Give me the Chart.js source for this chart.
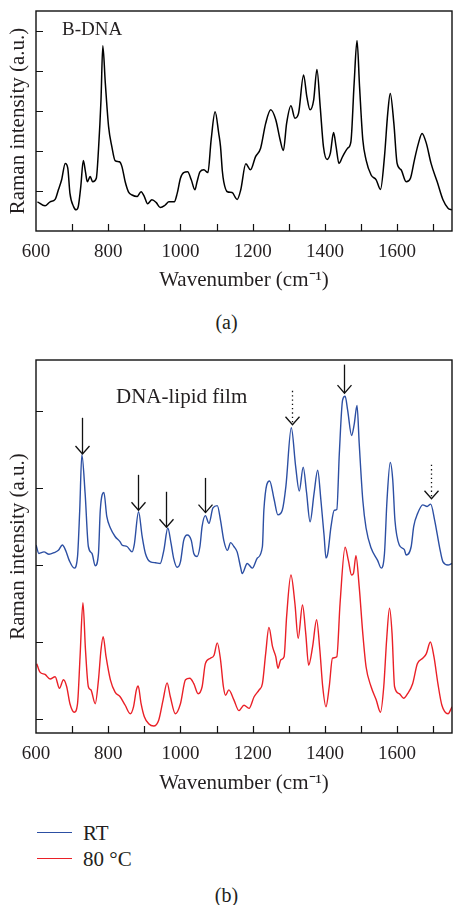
<!DOCTYPE html>
<html><head><meta charset="utf-8">
<script src="https://cdn.jsdelivr.net/npm/chart.js@4.4.1/dist/chart.umd.min.js"></script>
<style>
html,body{margin:0;padding:0;background:#fff}
body{width:453px;height:905px;position:relative;overflow:hidden;font-family:"Liberation Serif","Times New Roman",serif;color:#231f20}
canvas{position:absolute;left:0}
.t{position:absolute;white-space:nowrap;line-height:24px;height:24px}
.ln{position:absolute;left:37px;width:35px;height:0}
</style></head><body>
<canvas id="c1" width="453" height="300" style="top:0"></canvas>
<canvas id="c2" width="453" height="460" style="top:340px"></canvas>
<div class="t" style="left:62px;top:17px;font-size:19px">B-DNA</div>
<div class="t" style="left:116px;top:384px;font-size:21px">DNA-lipid film</div>
<div class="t" style="left:0;width:453px;text-align:center;top:310px;font-size:20px">(a)</div>
<div class="ln" style="top:832px;border-top:1.4px solid #2c4fa3"></div>
<div class="t" style="left:83px;top:821px;font-size:21px">RT</div>
<div class="ln" style="top:858px;border-top:1.4px solid #ea2027"></div>
<div class="t" style="left:83px;top:847px;font-size:21px">80 °C</div>
<div class="t" style="left:0;width:453px;text-align:center;top:883px;font-size:20px">(b)</div>
<script>
// ---- tick labels ----
const xTickLabels = [600, 800, 1000, 1200, 1400, 1600];
const xMinorTicks = [700, 800, 900, 1000, 1100, 1200, 1300, 1400, 1500, 1600, 1700];
const yTicksA = [1, 2, 3, 4, 5];
const yTicksB = [0, 1, 2, 3, 4];

// ---- (a) B-DNA spectrum ----
const wnA = [604,625,639,653,662,671,681,688,694,704,
 711,717,724,731,737,742,750,757,767,773,
 780,785,792,801,810,819,831,838,847,856,
 866,880,891,900,909,921,933,944,958,968,
 983,991,1000,1009,1020,1030,1040,1046,1054,1065,
 1076,1085,1096,1106,1111,1116,1120,1130,1143,1157,
 1167,1181,1194,1208,1222,1236,1250,1264,1276,1285,
 1294,1306,1317,1327,1341,1350,1359,1369,1378,1387,
 1396,1406,1415,1424,1431,1439,1449,1463,1472,1481,
 1489,1496,1505,1514,1528,1542,1554,1565,1574,1581,
 1591,1600,1611,1625,1637,1648,1659,1669,1681,1694,
 1711,1727,1741,1752];
const bDNA = [0.73,0.63,0.73,0.79,1.03,1.28,1.69,1.57,0.94,0.61,
 0.53,0.61,1.11,1.76,1.48,1.23,1.36,1.23,1.32,2.03,
 3.28,4.63,3.69,2.61,2.11,1.76,1.73,1.61,1.23,0.98,
 0.90,0.86,0.98,0.86,0.68,0.78,0.71,0.59,0.65,0.73,
 0.73,0.94,1.32,1.46,1.48,1.28,1.03,1.23,1.48,1.53,
 1.46,2.28,2.98,2.44,2.11,1.50,1.23,0.98,0.96,0.79,
 1.03,1.68,1.53,1.86,2.07,2.69,3.03,2.78,2.28,2.01,
 2.69,3.13,2.82,2.94,3.90,3.36,3.03,3.28,4.04,3.11,
 2.11,1.79,1.94,2.46,2.11,1.69,1.86,2.07,2.23,3.69,
 4.76,3.61,2.28,1.78,1.40,1.28,1.04,1.86,2.94,3.44,
 2.69,1.69,1.53,1.23,1.32,1.78,2.19,2.44,2.19,1.69,
 1.23,0.78,0.57,0.53];

// ---- (b) DNA-lipid film, RT ----
const wnRT = [600,608,622,636,650,662,673,682,692,706,
 715,721,727,736,745,755,764,773,778,788,
 796,806,819,833,838,852,866,872,884,894,
 903,917,931,944,954,965,974,981,991,1000,
 1009,1019,1030,1037,1046,1054,1060,1069,1079,1090,
 1102,1111,1120,1130,1139,1148,1157,1167,1171,1185,
 1199,1213,1227,1231,1247,1259,1270,1282,1292,1307,
 1319,1329,1340,1349,1359,1370,1380,1389,1398,1403,
 1408,1417,1426,1433,1440,1449,1456,1463,1474,1481,
 1489,1495,1505,1514,1528,1546,1556,1565,1572,1581,
 1588,1594,1606,1620,1625,1639,1646,1657,1671,1683,
 1693,1704,1718,1727,1741,1752];
const rt = [2.26,2.15,2.17,2.14,2.16,2.19,2.26,2.19,2.06,1.96,
 2.11,2.70,3.43,2.93,2.24,2.15,1.99,2.15,2.71,2.94,
 2.63,2.48,2.37,2.30,2.26,2.24,2.17,2.26,2.69,2.37,
 2.15,2.04,2.03,2.02,2.19,2.48,2.28,2.09,1.97,2.04,
 2.32,2.39,2.32,2.15,2.11,2.24,2.50,2.64,2.54,2.74,
 2.77,2.58,2.32,2.19,2.29,2.24,2.17,1.96,1.89,2.02,
 1.96,2.09,2.24,2.71,3.09,2.86,2.65,2.71,3.02,3.78,
 3.28,2.96,3.27,2.95,2.56,2.93,3.23,2.84,2.37,2.09,
 2.15,2.50,2.71,2.72,3.45,4.14,4.19,4.01,3.68,3.82,
 4.07,3.58,2.84,2.48,2.22,2.06,1.96,2.15,2.84,3.33,
 3.10,2.58,2.26,2.20,2.13,2.24,2.50,2.67,2.78,2.76,
 2.79,2.58,2.22,2.04,2.00,2.02];

// ---- (b) DNA-lipid film, 80 °C ----
const wn80 = [602,611,625,639,653,665,676,685,694,706,
 715,722,730,737,745,752,764,773,780,786,
 794,806,819,833,847,861,870,878,883,891,
 900,912,926,940,952,963,972,986,1000,1014,
 1026,1037,1049,1060,1069,1083,1093,1102,1111,1119,
 1125,1134,1148,1162,1176,1190,1204,1218,1227,1236,
 1245,1255,1264,1270,1278,1287,1294,1306,1317,1326,
 1338,1347,1355,1366,1377,1386,1394,1403,1412,1421,
 1433,1442,1456,1465,1474,1479,1486,1495,1505,1514,
 1528,1542,1554,1563,1571,1579,1586,1593,1606,1618,
 1629,1643,1656,1671,1681,1692,1702,1713,1724,1741,
 1752];
const t80 = [0.72,0.61,0.58,0.52,0.55,0.40,0.51,0.42,0.20,0.09,
 0.20,0.81,1.51,0.90,0.42,0.38,0.20,0.51,0.90,1.07,
 0.81,0.51,0.35,0.29,0.18,0.07,0.16,0.38,0.43,0.20,
 0.03,-0.06,-0.09,-0.01,0.25,0.47,0.29,0.07,0.20,0.51,
 0.53,0.46,0.33,0.42,0.72,0.79,0.83,0.99,0.77,0.42,
 0.31,0.38,0.25,0.11,0.18,0.14,0.29,0.38,0.46,0.85,
 1.19,0.94,0.81,0.66,0.77,0.81,1.33,1.87,1.50,1.05,
 1.48,1.11,0.70,0.94,1.29,0.90,0.42,0.16,0.42,0.79,
 0.81,1.50,2.23,2.06,1.87,1.89,2.12,1.72,1.11,0.68,
 0.42,0.25,0.09,0.42,1.03,1.44,1.11,0.42,0.33,0.27,
 0.33,0.46,0.72,0.79,0.85,1.00,0.81,0.46,0.18,0.07,
 0.16];

// ---- arrows marking bands in (b) ----
const arrowWn  = [727, 883, 961, 1069, 1308, 1453, 1694];
const arrowTop = [3.91, 3.17, 2.95, 3.13, 4.26, 4.60, 3.30];
const arrowTip = [3.44, 2.71, 2.49, 2.68, 3.82, 4.23, 2.86];
const arrowDotted = [false, false, false, false, true, false, true];

const TXT = '#231f20';
const zip = (xs, ys) => xs.map((x, i) => ({x, y: ys[i]}));

const framePlugin = {
  id: 'frame',
  afterDatasetsDraw(chart, args, opts) {
    const {ctx, chartArea: a, scales: {x, y}} = chart;
    ctx.save();
    ctx.strokeStyle = '#111';
    ctx.lineWidth = 1.4;
    ctx.strokeRect(a.left, a.top, a.right - a.left, a.bottom - a.top);
    ctx.lineWidth = 1.2;
    ctx.beginPath();
    xMinorTicks.forEach(v => { const p = Math.round(x.getPixelForValue(v)) + 0.5; ctx.moveTo(p, a.bottom); ctx.lineTo(p, a.bottom - 7); });
    (opts.yTicks || []).forEach(v => { const p = Math.round(y.getPixelForValue(v)) + 0.5; ctx.moveTo(a.left, p); ctx.lineTo(a.left + 7, p); });
    ctx.stroke();
    if (opts.arrows) {
      arrowWn.forEach((w, i) => {
        const px = Math.round(x.getPixelForValue(w)) + 0.5;
        const top = y.getPixelForValue(arrowTop[i]);
        const tip = y.getPixelForValue(arrowTip[i]);
        ctx.strokeStyle = '#111';
        ctx.lineWidth = 1.3;
        ctx.setLineDash(arrowDotted[i] ? [1.3, 3] : []);
        ctx.beginPath(); ctx.moveTo(px, top); ctx.lineTo(px, tip); ctx.stroke();
        ctx.setLineDash([]);
        ctx.beginPath(); ctx.moveTo(px - 7, tip - 8); ctx.lineTo(px, tip); ctx.lineTo(px + 7, tip - 8); ctx.stroke();
      });
    }
    ctx.restore();
  }
};

function makeOptions(ymin, ymax, yTicks, xHeight, titlePadBottom, padTop, arrows) {
  return {
    responsive: false, animation: false, events: [],
    layout: {padding: {top: padTop, right: 1, left: 0, bottom: 0}},
    plugins: {legend: {display: false}, tooltip: {enabled: false}, frame: {yTicks, arrows}},
    scales: {
      x: {
        type: 'linear', min: 600, max: 1752,
        afterBuildTicks: s => { s.ticks = xTickLabels.map(v => ({value: v})); },
        ticks: {autoSkip: false, maxRotation: 0, padding: 10, color: TXT,
                font: {family: 'Liberation Serif', size: 19}, callback: v => String(v)},
        grid: {display: false, drawTicks: false}, border: {display: false},
        title: {display: true, text: 'Wavenumber (cm\u207B\u00B9)', color: TXT,
                font: {family: 'Liberation Serif', size: 21}, padding: {top: 0, bottom: titlePadBottom}},
        afterFit: s => { s.height = xHeight; }
      },
      y: {
        min: ymin, max: ymax,
        ticks: {display: false}, grid: {display: false, drawTicks: false}, border: {display: false},
        title: {display: true, text: 'Raman intensity (a.u.)', color: TXT,
                font: {family: 'Liberation Serif', size: 21}, padding: {top: 6, bottom: 0}},
        afterFit: s => { s.width = 36; }
      }
    }
  };
}

const lineDs = (label, data, color, w) => ({
  label, data, borderColor: color, borderWidth: w, pointRadius: 0,
  cubicInterpolationMode: 'monotone', fill: false
});

new Chart(document.getElementById('c1'), {
  type: 'line',
  data: {datasets: [lineDs('B-DNA', zip(wnA, bDNA), '#000', 1.5)]},
  options: makeOptions(0, 5.5, yTicksA, 69, 7, 11, false),
  plugins: [framePlugin]
});

new Chart(document.getElementById('c2'), {
  type: 'line',
  data: {datasets: [
    lineDs('RT', zip(wnRT, rt), '#2c4fa3', 1.4),
    lineDs('80 °C', zip(wn80, t80), '#ea2027', 1.4)
  ]},
  options: makeOptions(-0.18, 4.66, yTicksB, 67, 4, 20, true),
  plugins: [framePlugin]
});
</script>
</body></html>
